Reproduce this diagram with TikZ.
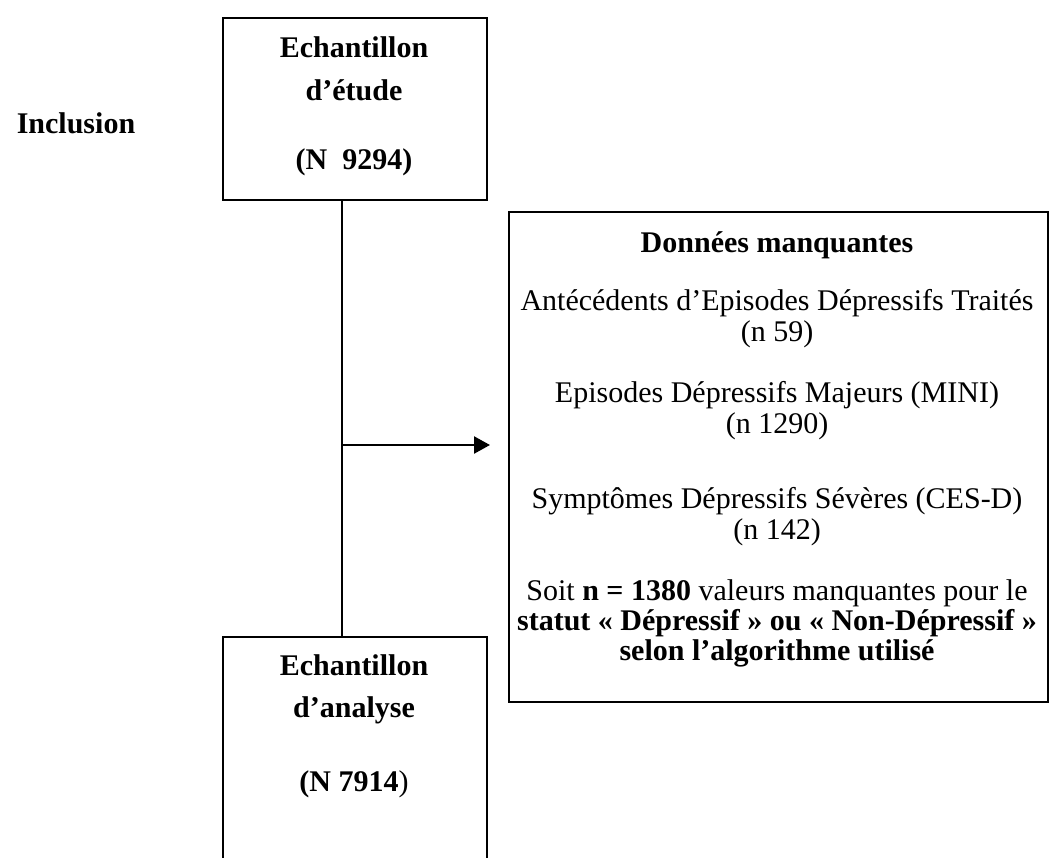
\documentclass[tikz,border=0pt]{standalone}
\usepackage{fontspec}
\setmainfont{Liberation Serif}
\usetikzlibrary{arrows.meta}
\tikzset{
  frame/.style={draw=black, line width=2.4pt, inner sep=0pt, anchor=north west},
  txt/.style={inner sep=0pt, anchor=base, font=\fontsize{30}{34}\selectfont},
  btxt/.style={txt, font=\fontsize{30}{34}\selectfont\bfseries},
  conn/.style={draw=black, line width=2.4pt}
}
\begin{document}
\begin{tikzpicture}[x=1pt,y=-1pt]
\useasboundingbox (0,0) rectangle (1049,857);
% boxes
\node[frame, minimum width=264pt, minimum height=182pt] (top) at (222,17) {};
\node[frame, minimum width=264pt, minimum height=240pt] (bot) at (222,636) {};
\node[frame, minimum width=539pt, minimum height=490pt] (miss) at (508,211) {};
% left label
\node[btxt] (incl) at (76,133) {Inclusion};
% top box text
\node[btxt] (t1) at (354,57) {Echantillon};
\node[btxt] (t2) at (354,100) {d’étude};
\node[btxt] (t3) at (354,169) {(N\ \ 9294)};
% bottom box text
\node[btxt] (b1) at (354,675) {Echantillon};
\node[btxt] (b2) at (354,717) {d’analyse};
\node[btxt] (b3) at (354,791) {(N 7914\textmd{)}};
% right box text
\node[btxt] (m0) at (777,252) {Données manquantes};
\node[txt] (m1) at (777,310) {Antécédents d’Episodes Dépressifs Traités};
\node[txt] (m2) at (777,341) {(n 59)};
\node[txt] (m3) at (777,402) {Episodes Dépressifs Majeurs (MINI)};
\node[txt] (m4) at (777,433) {(n 1290)};
\node[txt] (m5) at (777,508) {Symptômes Dépressifs Sévères (CES-D)};
\node[txt] (m6) at (777,539) {(n 142)};
\node[txt] (m7) at (777,600) {Soit \textbf{n = 1380} valeurs manquantes pour le};
\node[btxt] (m8) at (777,630) {statut « Dépressif » ou « Non-Dépressif »};
\node[btxt] (m9) at (777,660) {selon l’algorithme utilisé};
% connectors
\coordinate (vx) at (342,445);
\draw[conn] (top.south -| vx) -- (bot.north -| vx);
\draw[conn, -{Triangle[length=16pt,width=17pt]}, shorten >=18pt] (vx) -- (vx -| miss.west);
\end{tikzpicture}
\end{document}
